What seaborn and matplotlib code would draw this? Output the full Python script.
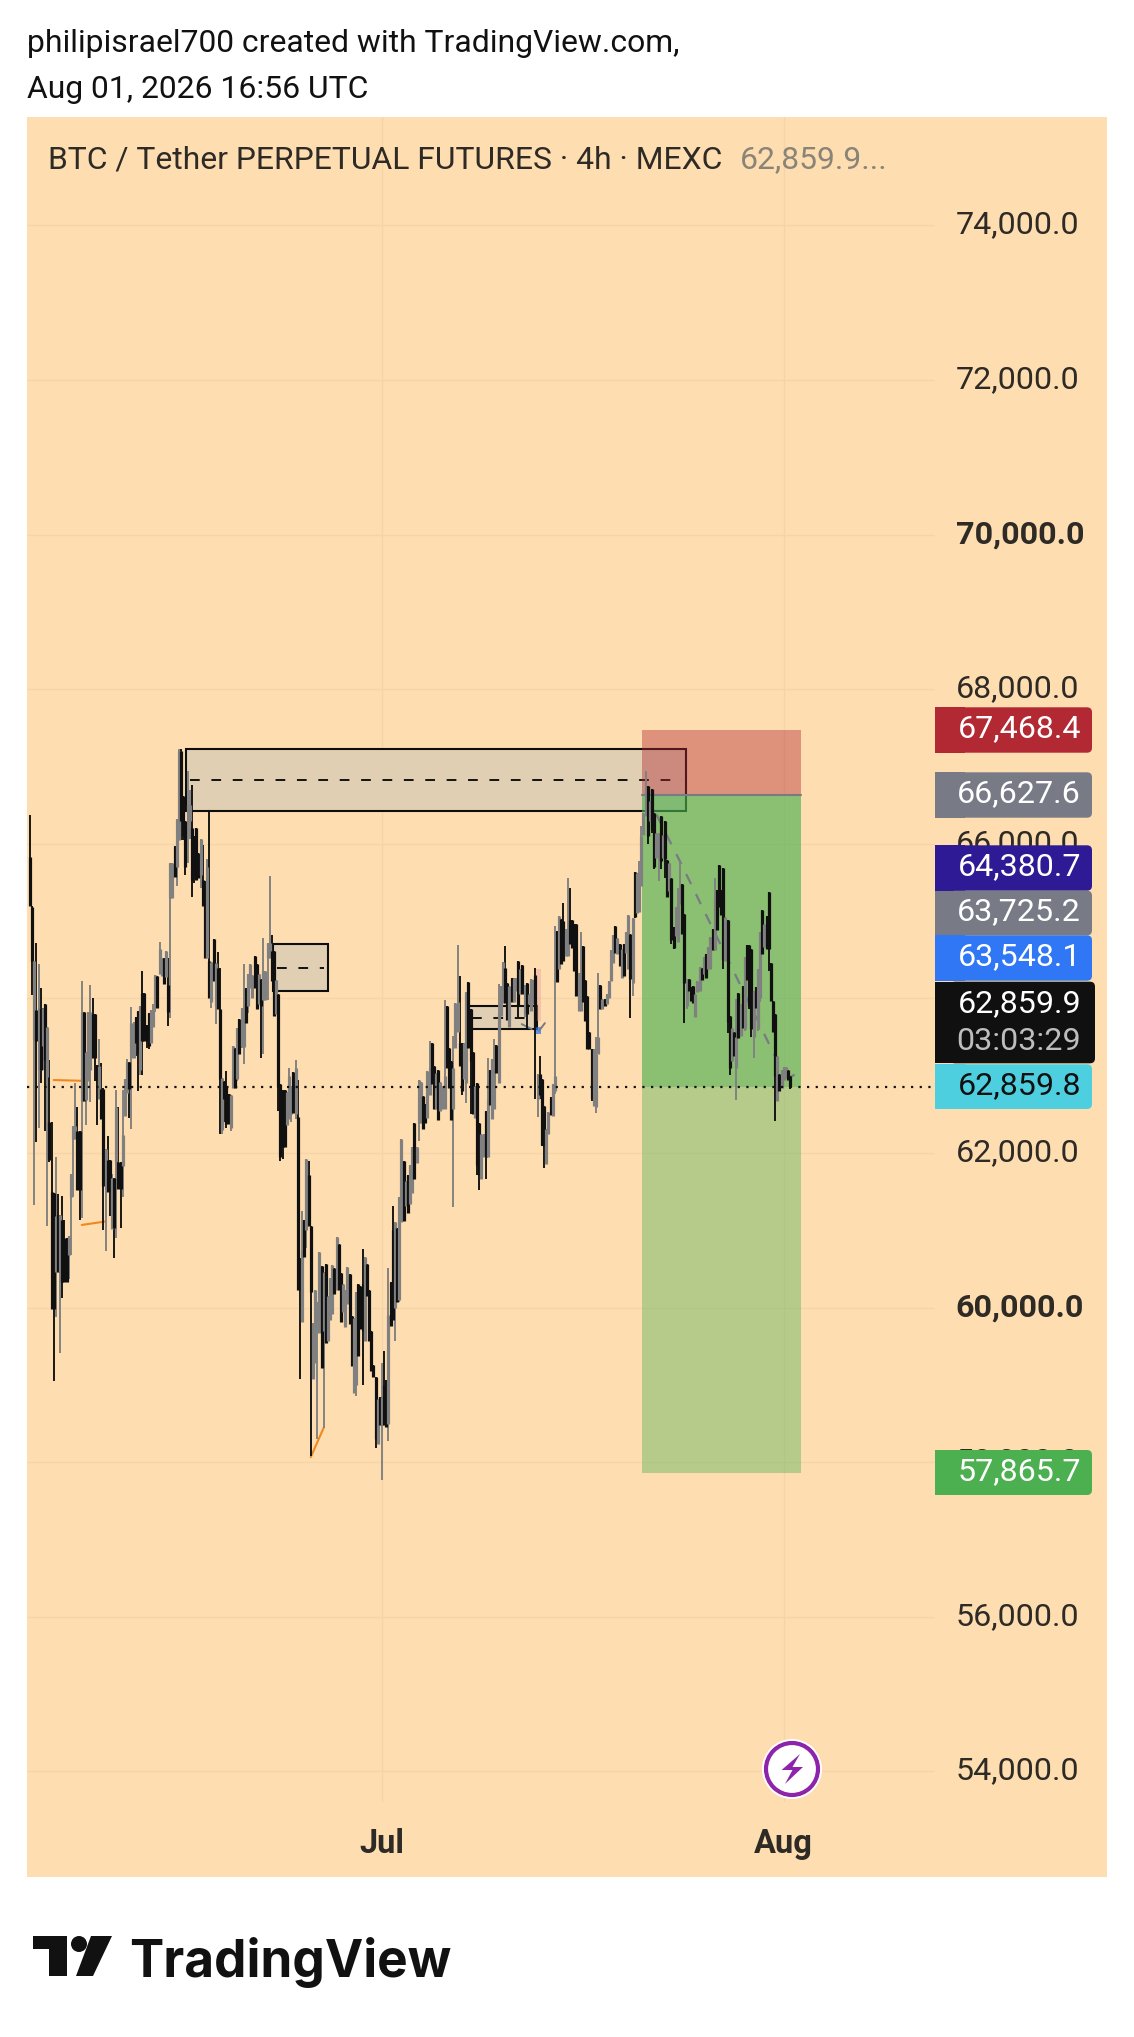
import matplotlib
matplotlib.use("Agg")
import matplotlib.pyplot as plt
from matplotlib.patches import Rectangle, FancyBboxPatch, Polygon, Circle
from matplotlib.transforms import Affine2D, ScaledTranslation
import numpy as np
import seaborn as sns

# ---- data ----
highs = [
66370,65200,64490,64720,64450,64130,63880,63930,63630,63205,
62405,61480,61955,61470,61205,61445,61130,60905,60930,61730,
62355,62905,62595,62280,64230,63830,63305,63830,64170,64005,
63805,63140,63480,63165,62840,62055,62215,61905,61730,61680,
62820,62595,61880,62820,62955,63220,63180,63895,63690,63755,
63840,63905,64355,64065,63655,63815,63855,63930,64305,
64297,64728,64526,64526,64620,64526,65754,65754,65970,66327,
67232,67232,66616,66300,66940,66700,66767,66100,66207,65883,
66069,65991,65517,65810,66409,64474,64763,64461,64603,64397,
62966,62933,63060,62760,62750,63384,63362,63620,63728,63879,
64440,64138,64310,64440,64300,64547,64440,64310,64246,64784,
64353,64720,65582,64819,64612,64233,64052,62888,
62822,62822,62796,63104,62873,63052,63206,62950,60641,61247,
61129,61924,61898,61052,59792,60231,60077,60718,60539,60462,
60564,60154,60385,60554,60513,60913,60821,60446,60308,60231,
60528,60436,59897,59872,60205,60308,60282,60759,60652,60564,
60231,59692,59256,59102,58820,58846,59282,59436,59061,60513,
60333,61318,61103,61026,61436,
62176,61898,61644,61713,61852,62084,62384,62084,62949,62917,
62732,62639,63056,63449,63426,63125,63042,63079,62917,62871,
63982,63898,63357,63195,63519,63936,64690,64297,63426,63426,
64088,64213,63866,63310,62871,62907,62384,62245,62245,62547,
63227,63070,63218,63482,63394,64181,64167,64468,64676,64199,64167,
64270,64270,64270,64485,64378,64434,64176,64206,64055,64249,
64236,64391,63023,63260,62959,62615,62314,62529,62722,62894,
64937,64872,65066,65023,65238,64894,65552,65423,65010,64958,
64958,64335,64860,64679,64236,64034,63561,63346,63346,63496,
64335,64176,63991,63991,64055,64227,64623,64821,64937,64778,
64700,64636,64709,64864,65075,64829,65036,
65638,65625,65775,66226,66400,66942,66747,66552,66713,66400,
66140,66140,66365,66118,66292,65792,65749,65554,64924,65185,
65423,65762,65476,65098,64252,64252,64143,64165,64056,64230,
64404,64395,64534,64569,64664,64794,64903,65554,65402,65727,
65402,65684,65055,65020,63774,63622,63566,63991,64069,63926,
64156,64534,64694,64686,64642,64100,64152,64382,64859,65141,
64959,65063,65380,64460,63970,63796,63262,63024,63080,63110,63110,63080,62993,
]
lows = [
65200,64050,61330,62140,62330,62905,63080,62280,61055,61880,
59980,59055,59880,60455,59415,60130,60330,60330,60365,60680,
61430,62180,61520,61130,61155,62670,62365,62930,62665,63230,
62930,62365,62705,62440,61000,60730,61490,61180,61020,60645,
60905,61540,61030,61430,62480,62780,62455,62305,63230,63255,
62805,63005,63005,63455,63355,63345,63430,63630,63830,
63880,64310,64289,64190,64275,63642,63750,65302,65569,65452,
66056,66056,66056,65603,65754,66060,65315,65500,65526,65560,
65431,65194,64526,64526,64009,63879,64224,63664,63858,62250,
62242,62400,62330,62371,62285,62845,62845,62931,63285,63362,
63147,63685,63815,64138,64000,64138,63866,63922,63233,63276,
63980,63980,64526,64224,63772,63793,62543,61900,
61924,62078,62360,62437,62400,62514,62437,60231,59077,59820,
60652,60770,61052,58076,59077,59282,58307,59667,59215,58446,
59538,59564,59846,59923,60180,60231,60231,59820,59949,59744,
60051,59795,59246,58897,58856,59369,59718,59000,59564,60154,
59564,59179,59102,58179,58230,58487,57768,58487,58461,58281,
59769,59846,59564,60077,60077,
61111,61125,61320,61227,61343,61482,61667,61875,62153,62384,
62315,62384,62454,62755,62894,62570,62570,62431,62547,62570,
62570,63102,62847,62431,61296,63357,63565,63125,62755,62963,
62648,63357,62500,62500,62454,61713,61528,61667,61945,61667,
61945,62616,62445,62570,63033,62903,63773,63936,63936,63727,63635,
63948,63948,64098,63754,64055,64055,63754,63604,63926,63840,
63926,62701,62464,62701,62086,61811,61862,62249,62486,62473,
62765,64219,64378,64442,64485,64550,64550,64700,64657,64356,
64034,63840,63832,63948,63711,63346,63346,62679,62615,62516,
63281,63862,63862,63905,63926,64012,64227,64464,64593,64571,
64421,64262,64292,64593,64378,63742,64034,
65036,65109,65120,65458,66118,66365,66001,66290,66140,65675,
65814,65523,65675,65814,65554,65315,65393,64707,64642,64807,
64729,65228,64838,63688,63861,64100,63970,63939,63761,64087,
64100,64239,64317,64265,64382,64382,64621,64621,64881,65185,
65076,64382,64482,63557,63015,63188,63253,62689,63484,63514,
63622,63579,64239,63861,63505,63232,63883,63579,63948,64577,
64664,64634,64360,63970,63570,62416,62668,62798,62841,62950,62971,62950,62828,
]
opens = [
65830,65180,63480,63850,63080,63880,63380,63930,62980,62405,
61490,61480,60455,61205,60455,61130,60905,60905,60680,61430,
62180,62180,62280,62280,62670,63830,62680,62930,63080,63805,
63805,63140,62705,62830,62830,61530,61905,61905,61020,61680,
61880,61880,61880,61830,62480,62780,63180,63230,63230,63755,
63840,63080,64065,64065,63655,63815,63430,63630,63930,
64297,64310,64289,64526,64275,64172,65302,65302,65970,65700,
66056,67198,66616,66300,66290,66300,66207,66100,66207,65883,
65600,65526,65517,64526,64483,63950,64763,63900,64397,63860,
62300,62933,62850,62759,62330,62845,63362,62960,63728,63390,
63370,64138,63900,64138,64000,64547,64440,63922,64246,63980,
63980,64526,64526,64612,64612,63793,64052,62888,
62822,62822,62360,62437,62500,63052,62500,62462,60641,59820,
61129,61000,61719,61052,59077,59282,59820,59667,60539,59692,
60564,59564,59846,59923,60513,60231,60821,60446,59949,59744,
60051,60436,59897,58897,59000,60308,60282,60300,59564,60564,
60231,59692,59256,59102,58230,58846,58487,59000,59061,58500,
60333,61000,60000,61026,60100,
61111,61898,61320,61713,61343,61482,62384,61875,62384,62384,
62732,62639,62454,62755,63426,63125,62570,63079,62547,62570,
62570,63898,63357,63195,62570,63357,63565,63426,63426,62963,
62900,64213,63866,63310,62454,62907,62384,61667,61945,62547,
61945,63070,62445,62570,63394,62903,63773,63936,64400,64199,63635,
64270,63948,64098,64485,64055,64434,63800,64206,63926,63840,
63926,64300,62700,63023,62959,62615,61862,62249,62722,62473,
62800,64872,64378,65023,65000,64550,64550,65010,65010,64958,
64958,63840,63832,64679,64236,64034,63561,63346,62615,62600,
63281,64176,63862,63991,63926,64012,64227,64464,64937,64571,
64700,64262,64709,64593,64378,64829,64200,
65638,65109,65120,65458,66118,66365,66747,66290,66713,66400,
65814,65814,66365,65814,66292,65792,65393,65554,64924,64807,
64729,65228,65476,65098,63900,64252,64143,64165,63761,64087,
64100,64395,64317,64569,64382,64382,64903,64621,65402,65727,
65402,65684,64482,65020,63774,63188,63566,63100,64069,63514,
64156,63600,64694,64686,64642,63500,64152,63600,64000,65141,
64664,65063,65380,64460,63970,63796,62668,63024,62841,62950,62971,63080,62993,
]
closes = [
65200,64480,64480,63450,63880,63080,63880,63205,63630,61905,
59980,59980,61180,60455,61205,60330,60330,60330,60930,61730,
62355,62355,61520,61520,63830,62670,63305,63830,63830,63230,
63230,62930,63130,62440,61580,62055,61490,61505,61680,61030,
62600,61540,61540,62230,62955,63180,62830,63680,63690,63430,
63280,63905,63455,63455,63455,63380,63855,63855,64305,
63880,64640,64526,64190,64620,63828,65754,65754,65569,66327,
67198,66300,66100,65700,66508,66500,65526,65600,65526,65560,
66069,65194,64526,65700,64009,64474,64224,64461,63858,62960,
62966,62694,62371,62371,62750,63384,62845,63620,63285,63879,
63730,63685,64310,64440,64300,64138,63866,64310,63900,64353,
64353,64720,64720,64224,63772,64233,62850,61950,
62078,62078,62796,63000,62873,62514,63100,60231,60231,60740,
60652,61924,61052,60200,59800,60231,60077,60718,59215,60462,
59538,60154,60385,60554,60180,60913,60231,59820,60308,60231,
60528,59795,59246,59872,60205,59369,59718,59700,60652,60154,
59564,59179,59102,58300,58820,58487,58850,58487,58461,59900,
59769,59846,61103,60077,61436,
62176,61125,61644,61227,61852,62084,61667,62084,62949,62917,
62315,62384,63056,63100,62894,62570,63042,62431,62917,62871,
63000,63102,62847,62431,63100,63936,63950,63125,62800,63426,
64088,63357,63195,62500,62871,61850,61713,62245,62245,61945,
62700,62616,63218,63100,63033,63800,64167,64468,63936,63727,64167,
63948,64270,64270,63900,64378,64055,64176,63800,64055,64249,
64236,63625,63023,62750,62100,62086,62314,62529,62486,62894,
63000,64219,65066,64442,64485,64894,64894,64700,64657,64356,
64034,64335,64335,63948,63711,63346,63346,62700,63346,63281,
63496,63862,63991,63905,64055,64227,64623,64821,64593,64778,
64421,64636,64292,64864,65075,64250,65036,
65050,65625,65640,66100,66400,66600,66100,66552,66184,65700,
66140,66140,65780,66118,65800,65315,65749,64750,64650,65185,
65228,65400,64838,64200,64252,64100,63970,63939,64056,64230,
64404,64239,64534,64265,64664,64794,64621,65300,64881,65185,
65076,64500,65055,63700,63100,63622,63253,63500,63484,63926,
63622,64534,64239,63900,63600,64100,63883,64382,64859,64577,
64959,64634,64640,63970,63570,63000,63262,62798,63080,63110,63110,62950,62860,
]
y_ticks = list(range(54000, 76000, 2000))
bold_ticks = [60000, 70000]
month_labels = ["Jul", "Aug"]
month_bars = [163, 349]
stop_price, entry_price, target_price, last_price = 67468.4, 66627.6, 57865.7, 62859.8
zone_prices = [(67221, 66429, 66825), (64704, 64095, 64400), (63902, 63604, 63753)]
zone_bars = [(72.1, 303.7), (112.5, 138.0), (202.8, 234.8)]
position_bars = (283.4, 357.0)
pivot_a = ([11, 24], [62945, 62935])
pivot_b = ([24, 35], [61070, 61115])
pivot_c = ([130, 136], [58066, 58446])
path_bars = [290, 301, 345, 346.5, 350, 354]
path_prices = [66380, 65770, 63250, 62880, 62950, 63015]
price_tags = ["67,468.4", "66,627.6", "64,380.7", "63,725.2", "63,548.1", "62,859.8", "57,865.7"]

# ---- style ----
W, H = 1134, 2037
PANE, GRID, INK = "#FEDEB0", "#F5D5A8", "#2E2A26"
TICK_SIZE = 23.2
HEAD_SIZE = 22.95
sns.set_theme(style="white", rc={"axes.grid": False})
plt.rcParams["font.family"] = ["Roboto", "DejaVu Sans"]
fig = plt.figure(figsize=(W / 100, H / 100), dpi=100, facecolor="white")
px = Affine2D().scale(1 / W, -1 / H).translate(0, 1) + fig.transFigure

fig.add_artist(Rectangle((27, 117), 1080, 1760, transform=px, fc=PANE, ec="none", zorder=-5))
ax = fig.add_axes([27 / W, 1 - 1802 / H, (935 - 27) / W, (1802 - 117) / H], facecolor=PANE)
ax.set_xlim(-1.35, 419.0)
ax.set_ylim(53605, 75403)
sns.despine(ax=ax, left=True, bottom=True, right=True, top=True)
ax.set_axisbelow(True)
ax.grid(True, color=GRID, lw=1.0)

ax.yaxis.tick_right()
ax.set_yticks(y_ticks)
ax.set_yticklabels([f"{v:,.1f}" for v in y_ticks], fontsize=TICK_SIZE, color=INK, ha="left")
ax.tick_params(axis="y", length=0, pad=15)
lift = ScaledTranslation(0, 3.5 / 100, fig.dpi_scale_trans)
for lab, v in zip(ax.get_yticklabels(), y_ticks):
    lab.set_transform(lab.get_transform() + lift)
    if v in bold_ticks:
        lab.set_fontweight("bold")
ax.set_xticks(month_bars)
ax.set_xticklabels(month_labels, fontsize=23.5, color=INK, fontweight="bold")
ax.tick_params(axis="x", length=0, pad=19)

# zones
for (top, bot, mid), (x0, x1) in zip(zone_prices, zone_bars):
    ax.add_patch(Rectangle((x0, bot), x1 - x0, top - bot, fc="#E0CFB3", ec="#0E0E0E", lw=1.5, zorder=2))
    ax.plot([x0 + 2, x1 - 2], [mid, mid], color="#111111", lw=1.4, ls=(0, (5, 6)), zorder=2.1)

# position tool
x0, x1 = position_bars
ax.add_patch(Rectangle((x0, entry_price), x1 - x0, stop_price - entry_price, fc="#B22833", alpha=0.42, ec="none", zorder=3))
ax.add_patch(Rectangle((x0, target_price), x1 - x0, entry_price - target_price, fc="#4CAF50", alpha=0.40, ec="none", zorder=3))
ax.add_patch(Rectangle((x0, last_price), x1 - x0, entry_price - last_price, fc="#4CAF50", alpha=0.40, ec="none", zorder=3))
ax.plot([x0, x1], [entry_price, entry_price], color="#787B86", lw=1.5, zorder=3.1)

# orange pivots, path, small marker
for bx, by in (pivot_a, pivot_b, pivot_c):
    sns.lineplot(x=bx, y=by, color="#F0881E", lw=1.5, ax=ax, sort=False, estimator=None, zorder=3.2)
sns.lineplot(x=path_bars, y=path_prices, color="#787B86", lw=1.6, ax=ax, sort=False, estimator=None,
             linestyle=(0, (5, 5)), zorder=3.3)
ax.add_patch(Rectangle((234, 63711), 2.6, 667, fc="#E8A0A0", alpha=0.45, ec="none", zorder=3.2))
ax.add_patch(Rectangle((234, 63539), 2.6, 86, fc="#2F77F5", alpha=0.75, ec="none", zorder=3.2))
sns.lineplot(x=[227.7, 232.3], y=[63668, 63604], color="#787B86", lw=1.4, ax=ax, sort=False, estimator=None, zorder=3.3)
sns.lineplot(x=[235.7, 238.4], y=[63582, 63681], color="#787B86", lw=1.4, ax=ax, sort=False, estimator=None, zorder=3.3)

# candles
n = len(closes)
bars = np.arange(n)
o, h, l, c = map(np.array, (opens, highs, lows, closes))
cols = ["#808080" if cc >= oo else "#101010" for oo, cc in zip(o, c)]
ax.vlines(bars, np.minimum(l, np.minimum(o, c)), np.maximum(h, np.maximum(o, c)), colors=cols, lw=1.35, zorder=4, capstyle="butt")
ax.vlines(bars, np.minimum(o, c), np.maximum(o, c), colors=cols, lw=2.3, zorder=4.1, capstyle="butt")

# last price line
ax.axhline(last_price, color="#111111", lw=1.6, ls=(0, (1, 2.9)), zorder=4.5)

# right-hand tags
tag_boxes = [(707.3, 752.7, "#B22833"), (772.3, 817.7, "#787B86"), (845.3, 890.7, "#2E1A94"),
             (890.7, 935.3, "#787B86"), (935.3, 980.7, "#2F77F5"), (1064.3, 1109, "#4ECFE0"),
             (1454, 1499, "#4CAF50")]
tag_boxes[-1] = (1450, 1495, "#4CAF50")
tag_text = ["white", "white", "white", "white", "white", "#101010", "white"]
for (y0, y1, col), tag, tc in zip(tag_boxes, price_tags, tag_text):
    fig.add_artist(FancyBboxPatch((950, y0), 142, y1 - y0, boxstyle="round,pad=0,rounding_size=5", transform=px, fc=col, ec="none", zorder=5))
    fig.add_artist(Rectangle((935, y0), 30, y1 - y0, transform=px, fc=col, ec="none", zorder=5))
    fig.text(1081, (y0 + y1) / 2 - 1, tag, transform=px, color=tc, fontsize=TICK_SIZE, ha="right", va="center", zorder=6)
fig.add_artist(FancyBboxPatch((950, 981.7), 145, 81.6, boxstyle="round,pad=0,rounding_size=5", transform=px, fc="#101010", ec="none", zorder=5))
fig.add_artist(Rectangle((935, 981.7), 30, 81.6, transform=px, fc="#101010", ec="none", zorder=5))
fig.text(1081, 1004, "62,859.9", transform=px, color="white", fontsize=TICK_SIZE, ha="right", va="center", zorder=6)
fig.text(1081, 1041, "03:03:29", transform=px, color="#BDBDBD", fontsize=TICK_SIZE, ha="right", va="center", zorder=6)

# header texts
fig.text(27, 44, "philipisrael700 created with TradingView.com,", transform=px, color="#111111", fontsize=HEAD_SIZE, va="center")
fig.text(27, 89, "Aug 01, 2026 16:56 UTC", transform=px, color="#111111", fontsize=HEAD_SIZE, va="center")
fig.text(48, 160, "BTC / Tether PERPETUAL FUTURES \u00b7 4h \u00b7 MEXC", transform=px, color=INK, fontsize=HEAD_SIZE, va="center", zorder=6)
fig.text(740, 160, "62,859.9...", transform=px, color="#8A8478", fontsize=HEAD_SIZE, va="center", zorder=6)

# lightning badge
fig.add_artist(Circle((792, 1769), 30, transform=px, fc="white", ec="none", zorder=5))
fig.add_artist(Circle((792, 1769), 26, transform=px, fc="white", ec="#8E24AA", lw=3.0, zorder=5.1))
fig.add_artist(Polygon([(800, 1754), (781.6, 1770), (792.5, 1770), (785, 1784), (803, 1767), (792.5, 1767)],
                       closed=True, transform=px, fc="#8E24AA", ec="none", zorder=5.2))

# logo
LOGO = "#111111"
fig.add_artist(Polygon([(33, 1936), (67, 1936), (67, 1976), (49, 1976), (49, 1949), (33, 1949)], transform=px, fc=LOGO, ec="none"))
fig.add_artist(Circle((79, 1944), 8, transform=px, fc=LOGO, ec="none"))
fig.add_artist(Polygon([(91, 1936), (112, 1936), (93, 1976), (76, 1976)], transform=px, fc=LOGO, ec="none"))
fig.text(129, 1962, "TradingView", transform=px, color=LOGO, fontsize=37.0, fontweight="bold", family=["Inter", "DejaVu Sans"], va="center")

fig.savefig("out.png", dpi=100)
